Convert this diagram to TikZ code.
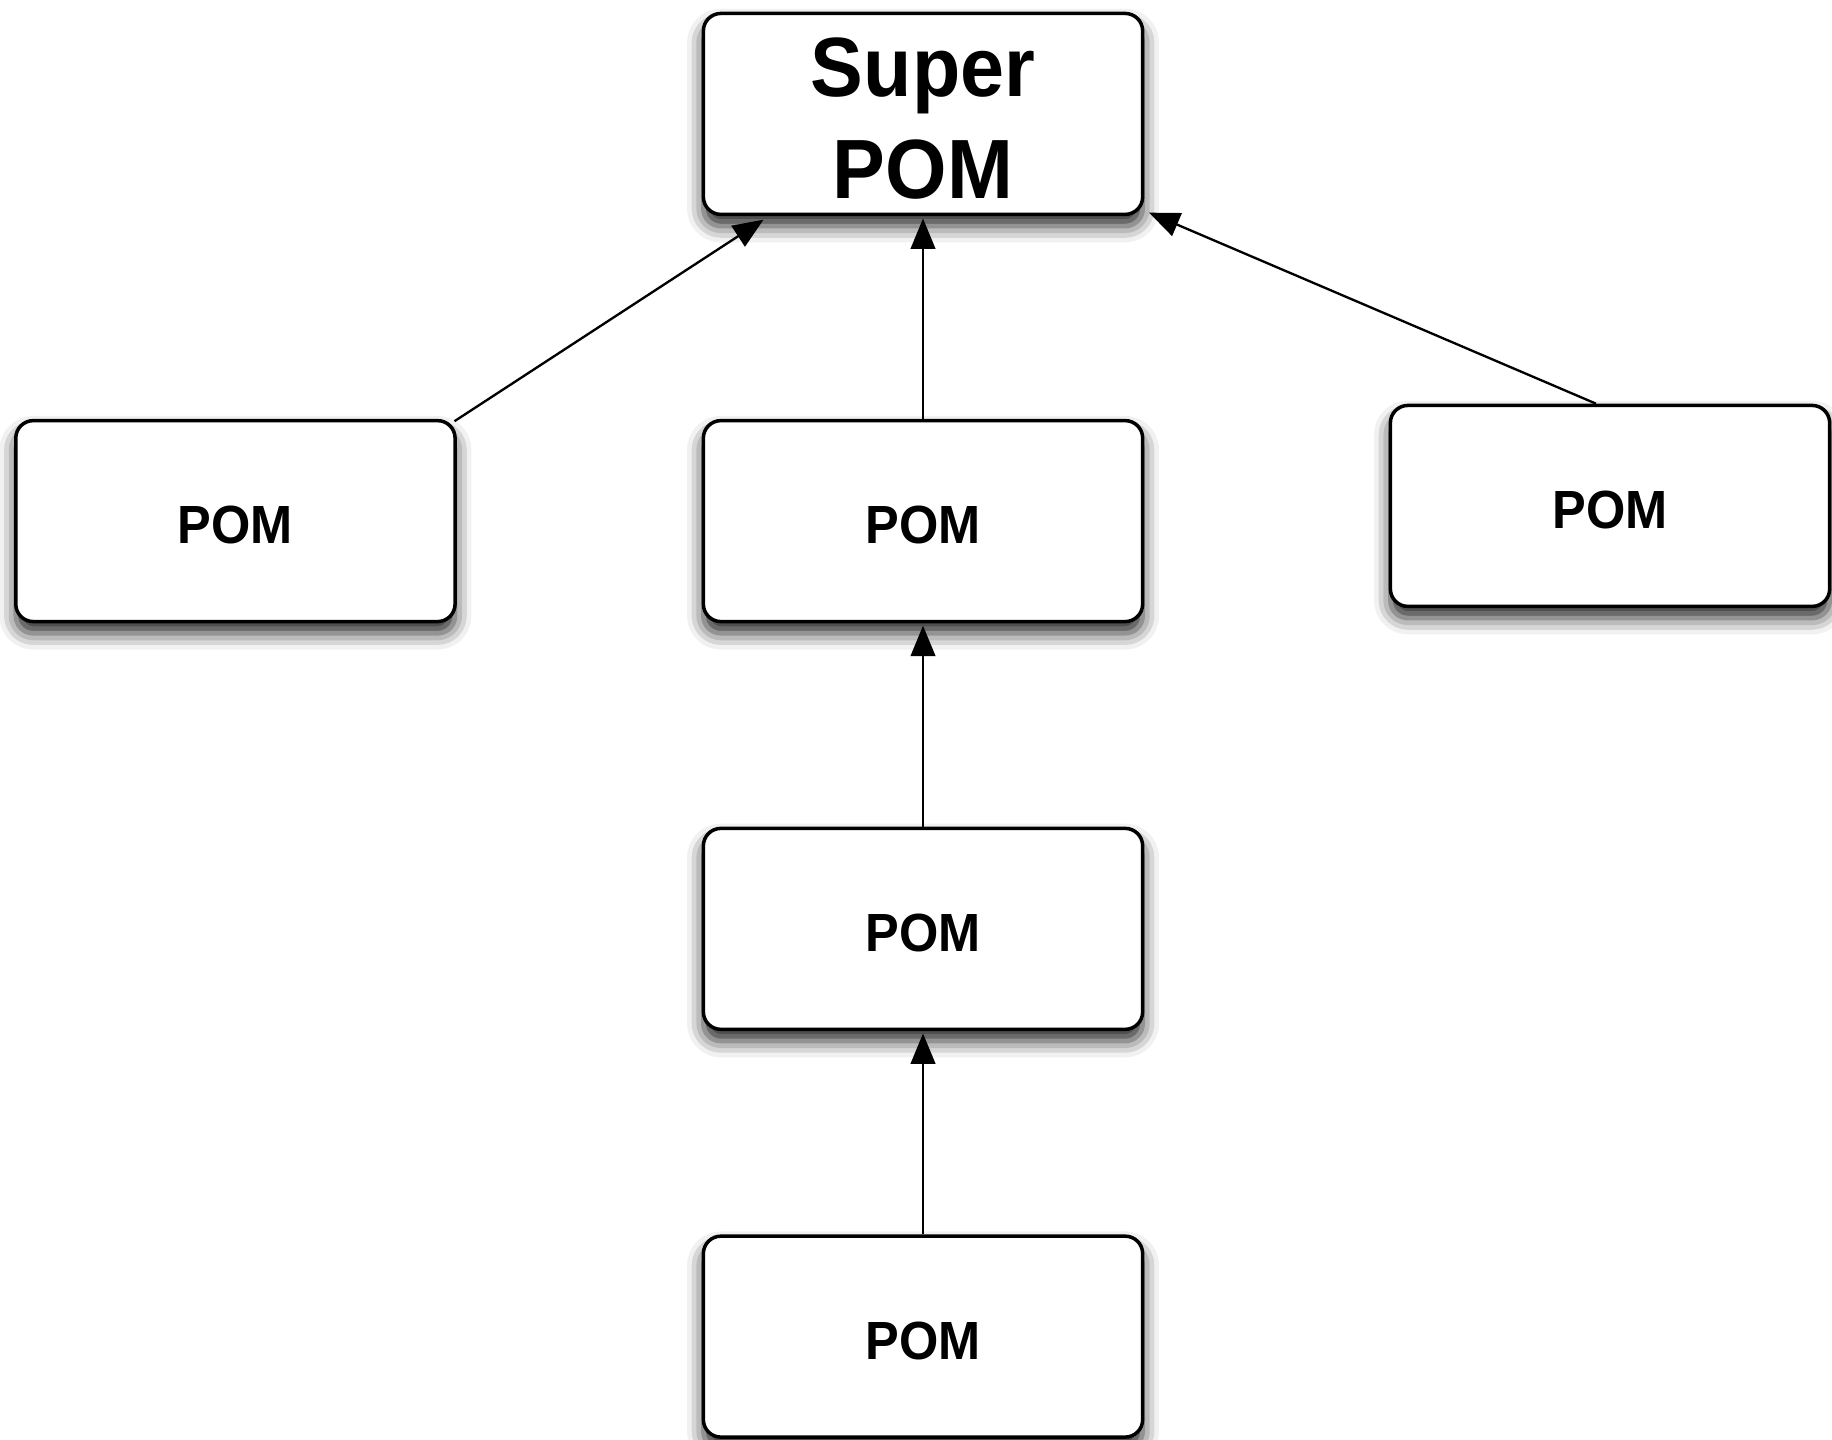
\documentclass[tikz,border=0pt]{standalone}
\usepackage{fontspec}
\setmainfont{Liberation Sans}[FakeStretch=0.94]
\usetikzlibrary{arrows.meta,shadows.blur,calc}
\tikzset{
  basebox/.style={draw=black, line width=3pt, fill=white, rounded corners=15pt,
    minimum width=376pt, minimum height=172pt, inner sep=0pt,
    blur shadow={shadow xshift=0pt, shadow yshift=-10pt, shadow blur radius=14pt, shadow opacity=85}},
  pombox/.style={basebox, text height=39pt, text depth=0pt,
    font=\fontsize{46}{52}\selectfont\bfseries},
  superbox/.style={basebox, align=center, font=\fontsize{72}{82}\selectfont\bfseries},
  link/.style={line width=2pt, -{Triangle[length=26pt,width=21pt]}}
}
\begin{document}
\begin{tikzpicture}[x=1pt,y=-1pt]
\useasboundingbox (0,0) rectangle (1568,1232);
\node[superbox] (super) at (790,97.5) {\raisebox{0pt}[\dimexpr\height+8pt]{Super}\\[6pt]POM};
\node[pombox] (left) at (201.5,446) {POM};
\node[pombox] (mid) at (790,446) {POM};
\node[pombox] (right) at (1378,433) {POM};
\node[pombox] (mid2) at (790,795) {POM};
\node[pombox] (bottom) at (790,1144) {POM};
\draw[link] ([xshift=-2pt,yshift=-2pt]left.north east) -- ([xshift=53pt,yshift=-3pt]super.south west);
\draw[link] (mid.north) -- ([yshift=-2pt]super.south);
\draw[link] ([xshift=-12pt]right.north) -- ([xshift=4pt,yshift=3pt]super.south east);
\draw[link] (mid2.north) -- ([yshift=-2pt]mid.south);
\draw[link] (bottom.north) -- ([yshift=-2pt]mid2.south);
\end{tikzpicture}
\end{document}
